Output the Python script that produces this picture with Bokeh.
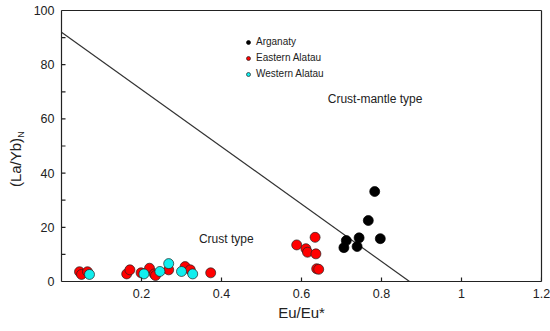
import math
from bokeh.plotting import figure
from bokeh.layouts import row
from bokeh.models import (FixedTicker, Label, Legend, LegendItem, LinearAxis,
                          CustomJSTickFormatter, Range1d)
from bokeh.embed import file_html
from bokeh.resources import INLINE

# ---- data ----
arganaty_x = [0.783, 0.767, 0.797, 0.744, 0.712, 0.706, 0.739]
arganaty_y = [33.2, 22.5, 15.8, 16.1, 15.1, 12.5, 12.9]

eastern_x = [0.045, 0.050, 0.065, 0.163, 0.171, 0.199, 0.220, 0.232, 0.235,
             0.268, 0.309, 0.322, 0.373,
             0.634, 0.588, 0.611, 0.615, 0.636, 0.638, 0.643]
eastern_y = [3.6, 2.6, 3.6, 2.8, 4.3, 3.2, 4.9, 2.8, 2.2,
             4.3, 5.5, 4.3, 3.2,
             16.3, 13.5, 12.1, 10.8, 10.2, 4.7, 4.5]

western_x = [0.070, 0.206, 0.246, 0.268, 0.300, 0.328]
western_y = [2.6, 2.8, 3.7, 6.6, 3.7, 2.8]

boundary_x = [0.0, 0.87]
boundary_y = [92.0, 0.0]

x_ticks = [0.2, 0.4, 0.6, 0.8, 1.0, 1.2]
y_ticks = [0, 20, 40, 60, 80, 100]
y_minor = [10, 30, 50, 70, 90]

region_labels = ["Crust-mantle type", "Crust type"]
region_x = [0.784, 0.412]
region_y = [67.2, 15.5]

FONT = "Liberation Sans"
INK = "#222222"

# ---- narrow strip holding the y-axis title "(La/Yb)N" (pixel coordinates, y downward) ----
lab = figure(frame_width=30, frame_height=331, output_backend="svg", toolbar_location=None,
             x_axis_location=None, y_axis_location=None,
             x_range=Range1d(0, 30), y_range=Range1d(331, 0),
             min_border_left=0, min_border_right=0, min_border_top=0, min_border_bottom=0)
lab.title.visible = False
lab.outline_line_color = None
lab.xgrid.visible = False
lab.ygrid.visible = False
lab.background_fill_color = "white"
lab.border_fill_color = "white"
lab.add_layout(Label(x=15, y=152, text="(La/Yb)", angle=math.pi / 2,
                     text_align="center", text_baseline="middle",
                     text_font=FONT, text_font_size="15px", text_color=INK))
lab.add_layout(Label(x=20, y=124, text="N", angle=math.pi / 2,
                     text_align="center", text_baseline="middle",
                     text_font=FONT, text_font_size="9px", text_color=INK))

# ---- main plot ----
p = figure(width=520, height=331, output_backend="svg", toolbar_location=None,
           x_range=Range1d(0, 1.2), y_range=Range1d(0, 100),
           min_border_left=28, min_border_right=9, min_border_top=10, min_border_bottom=50)
p.background_fill_color = "white"
p.border_fill_color = "white"
p.xgrid.visible = False
p.ygrid.visible = False
p.outline_line_color = None

# boundary line
p.line(boundary_x, boundary_y, line_color="#333333", line_width=1.2)

r_arg = p.scatter(arganaty_x, arganaty_y, size=10, fill_color="black", line_color="black", line_width=0.7)
r_east = p.scatter(eastern_x, eastern_y, size=10, fill_color="#ff0000", line_color=INK, line_width=0.7)
r_west = p.scatter(western_x, western_y, size=10, fill_color="#11eeee", line_color=INK, line_width=0.7)

# inward tick marks (half of each dash is clipped by the frame)
p.scatter([0] * len(y_ticks + y_minor), y_ticks + y_minor, marker="dash", size=8,
          line_color=INK, line_width=1.2)
p.scatter(x_ticks, [0] * len(x_ticks), marker="dash", size=8, angle=math.pi / 2,
          line_color=INK, line_width=1.2)

# axes
for ax in (p.xaxis[0], p.yaxis[0]):
    ax.axis_line_color = INK
    ax.axis_line_width = 1.2
    ax.major_tick_in = 0
    ax.major_tick_out = 0
    ax.minor_tick_in = 0
    ax.minor_tick_out = 0
    ax.major_tick_line_color = None
    ax.minor_tick_line_color = None
    ax.major_label_text_font = FONT
    ax.major_label_text_font_size = "12.5px"
    ax.major_label_text_color = INK
    ax.major_label_standoff = 7

p.xaxis[0].ticker = FixedTicker(ticks=x_ticks, minor_ticks=[])
p.xaxis[0].formatter = CustomJSTickFormatter(code="return tick.toFixed(1).replace(/\\.0$/, '');")
p.yaxis[0].ticker = FixedTicker(ticks=y_ticks, minor_ticks=y_minor)

p.xaxis[0].axis_label = "Eu/Eu*"
p.xaxis[0].axis_label_text_font = FONT
p.xaxis[0].axis_label_text_font_size = "15px"
p.xaxis[0].axis_label_text_font_style = "normal"
p.xaxis[0].axis_label_text_color = INK
p.xaxis[0].axis_label_standoff = 3

# top and right frame lines
for side in ("above", "right"):
    fa = LinearAxis(ticker=FixedTicker(ticks=[], minor_ticks=[]),
                    axis_line_color=INK, axis_line_width=1.2,
                    major_tick_in=0, major_tick_out=0, minor_tick_in=0, minor_tick_out=0,
                    major_label_standoff=0, major_label_text_font_size="0px")
    p.add_layout(fa, side)

# region labels
for t, xx, yy in zip(region_labels, region_x, region_y):
    p.add_layout(Label(x=xx, y=yy, text=t, text_align="center", text_baseline="middle",
                       text_font=FONT, text_font_size="12px", text_color=INK))

legend = Legend(items=[LegendItem(label="Arganaty", renderers=[r_arg]),
                       LegendItem(label="Eastern Alatau", renderers=[r_east]),
                       LegendItem(label="Western Alatau", renderers=[r_west])],
                location=(182, 202), orientation="vertical")
legend.border_line_color = None
legend.background_fill_alpha = 0
legend.padding = 0
legend.margin = 0
legend.spacing = 5
legend.glyph_width = 10
legend.glyph_height = 10
legend.label_height = 10
legend.label_standoff = 3
legend.label_text_font = FONT
legend.label_text_font_size = "10px"
legend.label_text_color = INK
p.add_layout(legend)

layout = row(lab, p, spacing=0)
open("out.html", "w").write(file_html(layout, INLINE))
